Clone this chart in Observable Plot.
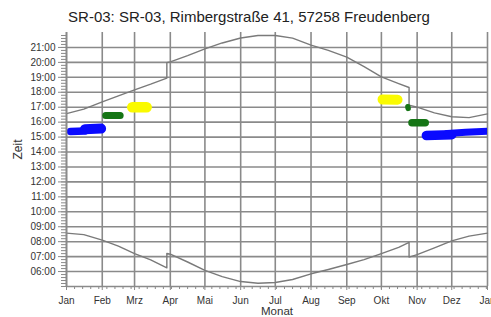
<!DOCTYPE html>
<html><head><meta charset="utf-8">
<script src="https://cdn.jsdelivr.net/npm/d3@7"></script>
<script src="https://cdn.jsdelivr.net/npm/@observablehq/plot@0.6"></script>
<style>
body{margin:0;background:#fff;font-family:"Liberation Sans",Arial,sans-serif;}
#title{height:26px;box-sizing:border-box;padding-top:9px;padding-left:7px;font-size:15px;line-height:1;text-align:center;color:#222;white-space:nowrap;}
</style></head><body>
<div id="title">SR-03: SR-03, Rimbergstraße 41, 57258 Freudenberg</div>
<div id="chart"></div>
<script>
// Month axis (day of year, 0 = 1 Jan)
const monthStarts = [0, 31, 59, 90, 120, 151, 181, 212, 243, 273, 304, 334, 365];
const monthLabels = ["Jan", "Feb", "Mrz", "Apr", "Mai", "Jun", "Jul", "Aug", "Sep", "Okt", "Nov", "Dez", "Jan"];
// Time axis (hours)
const hourTicks = [6, 7, 8, 9, 10, 11, 12, 13, 14, 15, 16, 17, 18, 19, 20, 21];
const hourLabels = ["06:00", "07:00", "08:00", "09:00", "10:00", "11:00", "12:00", "13:00", "14:00", "15:00", "16:00", "17:00", "18:00", "19:00", "20:00", "21:00"];

// Sunrise / sunset (local time incl. DST jumps)
const sunDays    = [0, 15, 31, 45, 59, 73, 87, 87, 90, 105, 120, 135, 151, 166, 181, 196, 212, 227, 243, 258, 273, 288, 297, 297, 304, 319, 334, 349, 365];
const sunriseHrs = [8.57, 8.47, 8.10, 7.70, 7.20, 6.78, 6.25, 7.22, 7.16, 6.64, 6.08, 5.66, 5.33, 5.22, 5.27, 5.47, 5.85, 6.14, 6.47, 6.80, 7.20, 7.62, 7.95, 6.97, 7.13, 7.58, 8.05, 8.37, 8.57];
const sunsetHrs  = [16.57, 16.87, 17.36, 17.76, 18.16, 18.54, 18.95, 19.98, 20.03, 20.45, 20.90, 21.30, 21.63, 21.80, 21.80, 21.62, 21.15, 20.80, 20.35, 19.72, 19.03, 18.58, 18.32, 17.14, 17.00, 16.62, 16.36, 16.30, 16.55];

// Shadow periods (blobs): group, day, hour
const shadowGroup = ["janBlueA","janBlueA","janBlueB","janBlueB","febGreen","febGreen","marYellow","marYellow","octYellow","octYellow","octGreenDot","octGreenDot","novGreen","novGreen","novBlueA","novBlueA","novBlueB","novBlueB","novBlueB"];
const shadowDay   = [3.5, 16, 16, 30, 34, 46.5, 57, 69.5, 274, 287, 296, 296.2, 299.5, 311, 312, 334, 330, 346, 367];
const shadowHour  = [15.38, 15.40, 15.53, 15.57, 16.45, 16.45, 17.0, 17.0, 17.52, 17.50, 17.03, 16.92, 15.96, 15.96, 15.10, 15.15, 15.24, 15.32, 15.40];

const shadowStyle = {
  janBlueA: {color: "#0a0aff", width: 7.5},
  janBlueB: {color: "#0a0aff", width: 10},
  febGreen: {color: "#157515", width: 7},
  marYellow: {color: "#fafa00", width: 10.5},
  octYellow: {color: "#fafa00", width: 10},
  octGreenDot: {color: "#157515", width: 5.5},
  novGreen: {color: "#157515", width: 7.5},
  novBlueA: {color: "#0a0aff", width: 9.5},
  novBlueB: {color: "#0a0aff", width: 7}
};

const sun = sunDays.map((d, i) => ({day: d, rise: sunriseHrs[i], set: sunsetHrs[i]}));
const shadows = shadowGroup.map((g, i) => ({group: g, day: shadowDay[i], hour: shadowHour[i]}));
const groups = [...new Set(shadowGroup)];

const minorY = d3.range(5, 21.9, 0.2);
const minorX = d3.range(0, 366, 7);
const grid = "#8a8a8a";

const chart = Plot.plot({
  width: 491, height: 291,
  marginLeft: 66, marginRight: 4, marginTop: 6, marginBottom: 31,
  style: {fontFamily: '"Liberation Sans", Arial, sans-serif', fontSize: "10px", background: "#fff", color: "#333"},
  x: {domain: [0, 365], axis: null},
  y: {domain: [5, 22], axis: null},
  marks: [
    Plot.gridX(monthStarts, {stroke: grid, strokeOpacity: 1, strokeWidth: 1.6}),
    Plot.gridY(hourTicks, {stroke: grid, strokeOpacity: 1, strokeWidth: 1.6}),
    Plot.line(sun, {x: "day", y: "rise", stroke: "#7a7a7a", strokeWidth: 1.4}),
    Plot.line(sun, {x: "day", y: "set", stroke: "#7a7a7a", strokeWidth: 1.4}),
    ...groups.map(g => Plot.line(shadows.filter(s => s.group === g), {
      x: "day", y: "hour", stroke: shadowStyle[g].color, strokeWidth: shadowStyle[g].width,
      strokeLinecap: "round", strokeLinejoin: "round", clip: true
    })),
    Plot.ruleX([0], {stroke: grid, strokeWidth: 1.6}),
    Plot.ruleY([5], {stroke: grid, strokeWidth: 1.6}),
    Plot.axisY(minorY, {tickSize: 5, tickFormat: () => "", stroke: grid, label: null}),
    Plot.axisY(hourTicks, {tickSize: 8, tickPadding: 3, tickFormat: d => hourLabels[hourTicks.indexOf(d)], stroke: grid, fill: "#333", label: null}),
    Plot.axisX(minorX, {tickSize: 3, tickFormat: () => "", stroke: grid, label: null}),
    Plot.axisX(monthStarts, {tickSize: 4, tickPadding: 6, tickFormat: d => monthLabels[monthStarts.indexOf(d)], stroke: grid, fill: "#333", label: null}),
    Plot.text(["Monat"], {frameAnchor: "bottom", dy: 20, lineAnchor: "top", fontSize: 11.5, fill: "#333"}),
    Plot.text(["Zeit"], {frameAnchor: "left", dx: -48, rotate: -90, fontSize: 12, fill: "#333"})
  ]
});
document.getElementById("chart").appendChild(chart);
</script>
</body></html>
